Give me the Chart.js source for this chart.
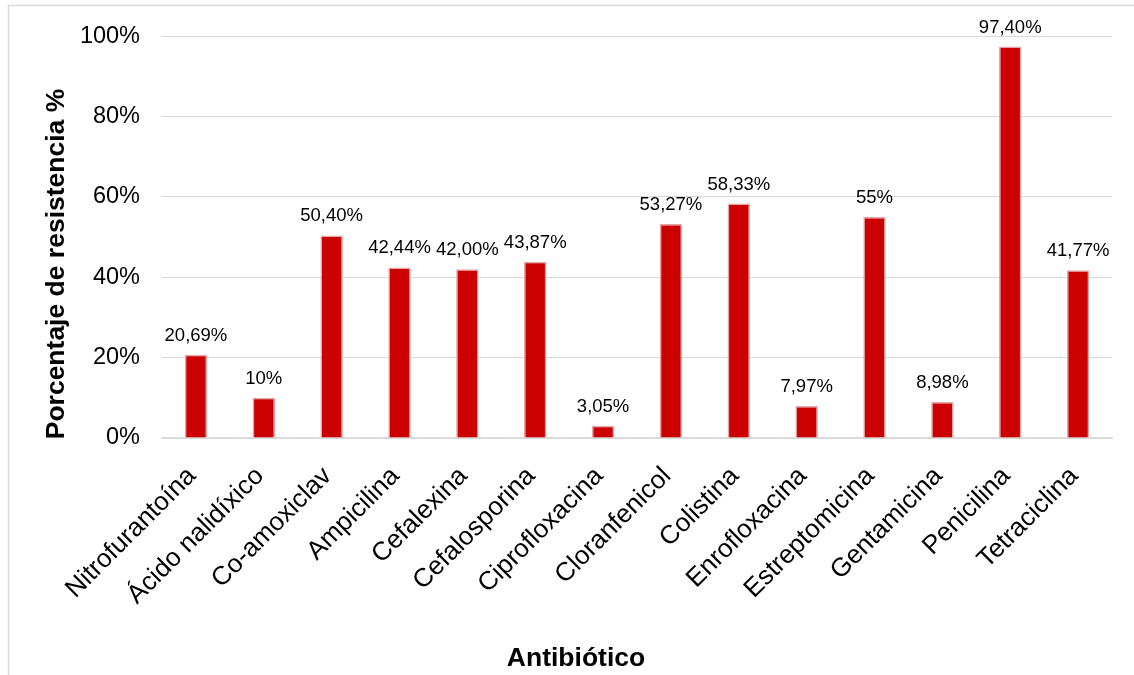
<!DOCTYPE html>
<html>
<head>
<meta charset="utf-8">
<script src="https://cdn.jsdelivr.net/npm/chart.js@4"></script>
<style>
html,body{margin:0;padding:0;background:#fff;}
#wrap{position:absolute;left:0;top:0;width:1134px;height:675px;}
</style>
</head>
<body>
<div id="wrap"><canvas id="c" width="1134" height="675"></canvas></div>
<script>
const categories = ["Nitrofurantoína","Ácido nalidíxico","Co-amoxiclav","Ampicilina","Cefalexina","Cefalosporina","Ciprofloxacina","Cloranfenicol","Colistina","Enrofloxacina","Estreptomicina","Gentamicina","Penicilina","Tetraciclina"];
const resistance = [20.69, 10, 50.40, 42.44, 42.00, 43.87, 3.05, 53.27, 58.33, 7.97, 55, 8.98, 97.40, 41.77];
const valueLabels = ["20,69%","10%","50,40%","42,44%","42,00%","43,87%","3,05%","53,27%","58,33%","7,97%","55%","8,98%","97,40%","41,77%"];
const yTitle = "Porcentaje de resistencia %";
const xTitle = "Antibiótico";

const FONT = "'Liberation Sans', Arial, sans-serif";

const decor = {
  id: 'decor',
  beforeDraw(chart) {
    const ctx = chart.ctx;
    ctx.save();
    ctx.strokeStyle = '#d9d9d9';
    ctx.lineWidth = 1.5;
    ctx.strokeRect(8.5, 5.5, 2000, 2000);
    ctx.restore();
  },
  afterDraw(chart) {
    const ctx = chart.ctx;
    ctx.save();
    const meta = chart.getDatasetMeta(0);
    ctx.font = "18.5px " + FONT;
    ctx.fillStyle = '#000';
    ctx.textAlign = 'center';
    ctx.textBaseline = 'alphabetic';
    meta.data.forEach((bar, i) => {
      ctx.fillText(valueLabels[i], bar.x, bar.y - 14);
    });
    ctx.font = "bold 26.5px " + FONT;
    ctx.textBaseline = 'middle';
    ctx.fillText(xTitle, 576, 659);
    ctx.translate(57, 264);
    ctx.rotate(-Math.PI / 2);
    ctx.fillText(yTitle, 0, 0);
    ctx.restore();
  }
};

new Chart(document.getElementById('c'), {
  type: 'bar',
  data: {
    labels: categories,
    datasets: [{
      data: resistance,
      backgroundColor: '#cc0000',
      borderColor: '#e3a6a6',
      borderWidth: 1.5,
      barPercentage: 0.33,
      categoryPercentage: 1
    }]
  },
  options: {
    responsive: false,
    animation: false,
    devicePixelRatio: 1,
    layout: { padding: { left: 0, top: 35, right: 22, bottom: 0 } },
    plugins: { legend: { display: false }, tooltip: { enabled: false } },
    scales: {
      x: {
        afterFit(s) { s.height = 237; },
        grid: { display: false },
        border: { display: true, color: '#d9d9d9', width: 1.5 },
        ticks: {
          autoSkip: false, maxRotation: 45, minRotation: 45,
          color: '#000', font: { size: 26, family: FONT }, padding: 15, labelOffset: -4
        }
      },
      y: {
        min: 0, max: 100,
        afterFit(s) { s.width = 162; },
        grid: { color: '#d9d9d9', lineWidth: 1, drawTicks: false },
        border: { display: false },
        ticks: {
          stepSize: 20, color: '#000', font: { size: 23.5, family: FONT }, padding: 22,
          callback: v => v + '%'
        }
      }
    }
  },
  plugins: [decor]
});
</script>
</body>
</html>
